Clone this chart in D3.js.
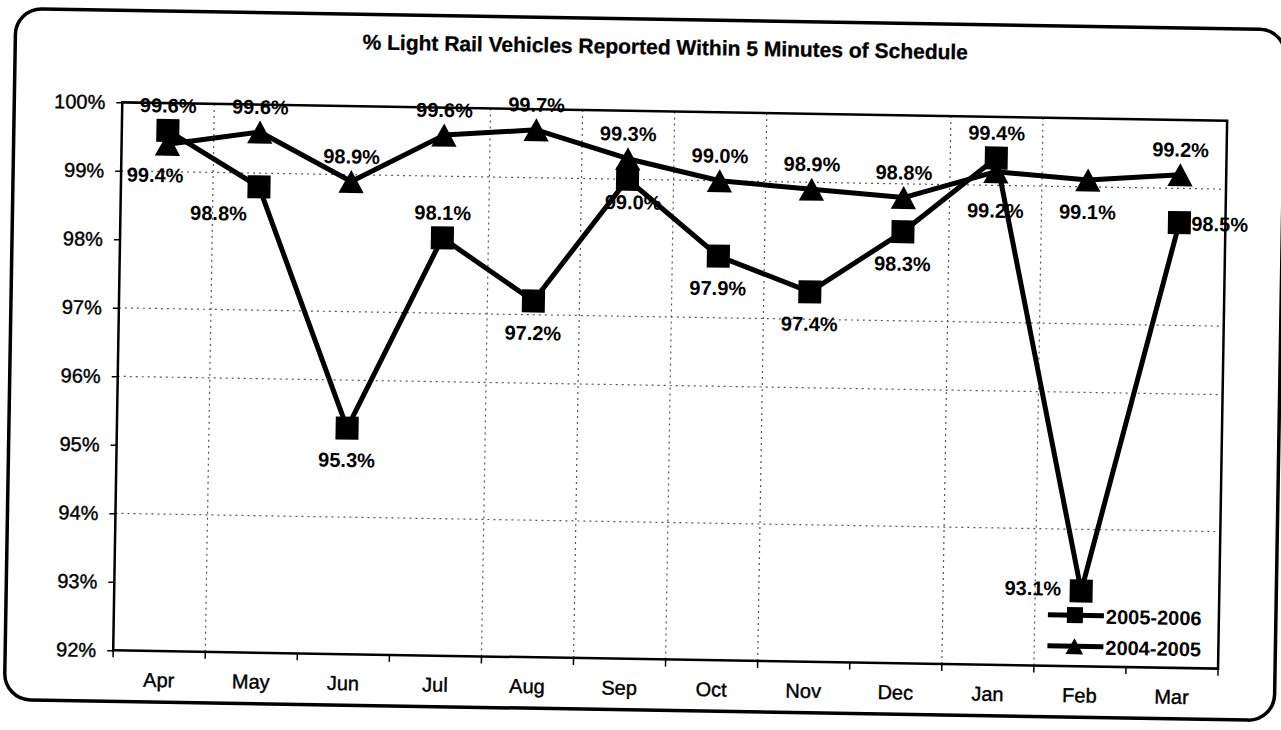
<!DOCTYPE html>
<html>
<head>
<style>
  body { margin: 0; background: #fff; }
  svg { display: block; font-family: "Liberation Sans", Arial, sans-serif; }
  .frame { fill: none; stroke: #000; stroke-width: 3.5; }
  .plot_border { fill: none; stroke: #000; stroke-width: 2.5; }
  .grid { stroke: #555; stroke-width: 1.2; stroke-dasharray: 2,4; }
  .serie { fill: none; stroke: #000; stroke-width: 5; stroke-linejoin: round; }
  .lbl { font-size: 20px; font-weight: bold; fill: #000; }
  .tick_lbl { font-size: 20px; fill: #000; stroke: #000; stroke-width: 0.4; }
</style>
</head>
<body>
<div id="chart"></div>
<script src="https://cdn.jsdelivr.net/npm/d3@7"></script>
<script>

//////////////////// data ////////////////////
const months = ["Apr", "May", "Jun", "Jul", "Aug", "Sep", "Oct", "Nov", "Dec", "Jan", "Feb", "Mar"];
const fy0506 = [99.6, 98.8, 95.3, 98.1, 97.2, 99.0, 97.9, 97.4, 98.3, 99.4, 93.1, 98.5];
const fy0405 = [99.4, 99.6, 98.9, 99.6, 99.7, 99.3, 99.0, 98.9, 98.8, 99.2, 99.1, 99.2];
const yTicks = [92, 93, 94, 95, 96, 97, 98, 99, 100];
// where each data label sits relative to its marker
const pos0506 = ["above", "belowleft", "below", "above", "below", "belowright", "below", "below", "below", "above", "left", "right"];
const pos0405 = ["belowshift", "above", "above", "above", "above", "above", "above", "above", "above", "farbelow", "below", "above"];
// gridlines that survive on the scanned sheet
const hGrid = [99, 97, 96, 94];
const vGrid = [1, 4, 5, 6, 7, 9, 10];

const TITLE = "% Light Rail Vehicles Reported Within 5 Minutes of Schedule";
const series = [
    {name: "2005-2006", values: fy0506, pos: pos0506, marker: "square"},
    {name: "2004-2005", values: fy0405, pos: pos0405, marker: "triangle"}
];

//////////////////// layout ////////////////////
const W = 1281, H = 730;
const PLOT_L = 118, PLOT_R = 1223, PLOT_T = 111, PLOT_B = 659;
const TILT = 0.95; // the sheet was scanned slightly askew

const svg = d3.select("#chart").append("svg")
    .attr("width", W)
    .attr("height", H);

const g = svg.append("g")
    .attr("transform", `rotate(${TILT}, ${W/2}, ${H/2})`);

const x = d3.scaleBand().domain(months).range([PLOT_L, PLOT_R]).padding(0);
const y = d3.scaleLinear().domain([92, 100]).range([PLOT_B, PLOT_T]);
const cx = m => x(m) + x.bandwidth()/2;

// cadre arrondi
g.append("rect")
    .classed("frame", true)
    .attr("x", 10).attr("y", 19)
    .attr("width", 1270).attr("height", 691)
    .attr("rx", 26).attr("ry", 26);

// titre
g.append("text")
    .attr("x", 660).attr("y", 54)
    .attr("text-anchor", "middle")
    .attr("font-size", 21)
    .attr("font-weight", "bold")
    .attr("stroke", "#000").attr("stroke-width", 0.3)
    .text(TITLE);

// grille
g.selectAll(".hgrid").data(hGrid).enter().append("line")
    .classed("grid", true)
    .attr("x1", PLOT_L).attr("x2", PLOT_R)
    .attr("y1", d => y(d)).attr("y2", d => y(d));
g.selectAll(".vgrid").data(vGrid).enter().append("line")
    .classed("grid", true)
    .attr("x1", i => x(months[i])).attr("x2", i => x(months[i]))
    .attr("y1", PLOT_T).attr("y2", PLOT_B);

// axes
const yAxis = g.append("g")
    .attr("transform", `translate(${PLOT_L},0)`)
    .call(d3.axisLeft(y).tickValues(yTicks).tickSize(6).tickFormat(d => d + "%"));
yAxis.select(".domain").remove();
yAxis.selectAll("line").attr("stroke", "#000").attr("stroke-width", 1.5);
yAxis.selectAll("text").classed("tick_lbl", true).attr("x", -17);
yAxis.attr("font-size", null).attr("font-family", null);

const xAxis = g.append("g")
    .attr("transform", `translate(0,${PLOT_B})`)
    .call(d3.axisBottom(x).tickSize(0).tickPadding(0));
xAxis.select(".domain").remove();
xAxis.selectAll("text").classed("tick_lbl", true)
    .attr("dy", null).attr("y", 36);
xAxis.attr("font-size", null).attr("font-family", null);

// ticks entre les categories
g.selectAll(".xtick").data(d3.range(months.length + 1)).enter().append("line")
    .attr("x1", i => PLOT_L + i * x.bandwidth())
    .attr("x2", i => PLOT_L + i * x.bandwidth())
    .attr("y1", PLOT_B).attr("y2", PLOT_B + 7)
    .attr("stroke", "#000").attr("stroke-width", 1.5);

g.append("rect")
    .classed("plot_border", true)
    .attr("x", PLOT_L).attr("y", PLOT_T)
    .attr("width", PLOT_R - PLOT_L).attr("height", PLOT_B - PLOT_T);

//////////////////// series ////////////////////
const line = d3.line().x((v, i) => cx(months[i])).y(v => y(v));

function drawMarker(sel, type, size) {
    if (type === "square") {
        sel.append("rect")
            .attr("x", -size/2).attr("y", -size/2)
            .attr("width", size).attr("height", size)
            .attr("fill", "#000");
    } else {
        const w = size * 1.1, h = size;
        sel.append("path")
            .attr("d", `M 0 ${-h/2} L ${w/2} ${h/2} L ${-w/2} ${h/2} Z`)
            .attr("fill", "#000");
    }
}

function labelPlace(p) {
    switch (p) {
        case "above": return {dx: 0, dy: -18, anchor: "middle"};
        case "below": return {dx: 0, dy: 39, anchor: "middle"};
        case "farbelow": return {dx: 0, dy: 46, anchor: "middle"};
        case "belowshift": return {dx: -12, dy: 38, anchor: "middle"};
        case "belowleft": return {dx: -40, dy: 34, anchor: "middle"};
        case "belowright": return {dx: 6, dy: 30, anchor: "middle"};
        case "left": return {dx: -20, dy: 5, anchor: "end"};
        case "right": return {dx: 12, dy: 8, anchor: "start"};
    }
}

series.forEach(s => {
    g.append("path").classed("serie", true).attr("d", line(s.values));

    s.values.forEach((v, i) => {
        const m = g.append("g").attr("transform", `translate(${cx(months[i])},${y(v)})`);
        drawMarker(m, s.marker, 23);
    });
});

series.forEach(s => {
    s.values.forEach((v, i) => {
        const p = labelPlace(s.pos[i]);
        g.append("text")
            .classed("lbl", true)
            .attr("x", cx(months[i]) + p.dx)
            .attr("y", y(v) + p.dy)
            .attr("text-anchor", p.anchor)
            .text(v.toFixed(1) + "%");
    });
});

//////////////////// legende ////////////////////
const legend = g.append("g").attr("transform", "translate(1052, 616)");
series.forEach((s, idx) => {
    const row = legend.append("g").attr("transform", `translate(0, ${idx * 31})`);
    row.append("line")
        .attr("x1", 0).attr("x2", 56)
        .attr("y1", -8).attr("y2", -8)
        .attr("stroke", "#000").attr("stroke-width", 5);
    const mk = row.append("g").attr("transform", "translate(27, -8)");
    drawMarker(mk, s.marker, 16);
    row.append("text")
        .classed("lbl", true)
        .attr("x", 58).attr("y", 0)
        .text(s.name);
});

</script>
</body>
</html>
